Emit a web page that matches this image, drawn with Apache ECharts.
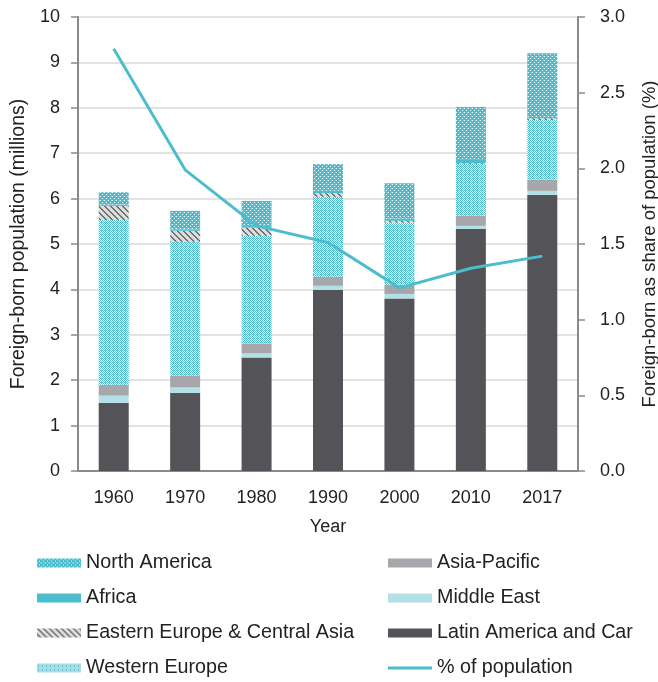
<!DOCTYPE html>
<html>
<head>
<meta charset="utf-8">
<script src="https://cdn.jsdelivr.net/npm/echarts@6/dist/echarts.min.js"></script>
<style>
  html, body { margin: 0; padding: 0; background: #fff; }
  #chart { width: 658px; height: 682px; }
</style>
</head>
<body>
<div id="chart"></div>
<script>
// years on the x axis
const years = ["1960", "1970", "1980", "1990", "2000", "2010", "2017"];
// foreign-born population by region (millions), stacked bottom to top
const latinAmerica = [1.50, 1.72, 2.50, 3.99, 3.80, 5.33, 6.08];
const middleEast = [0.16, 0.12, 0.09, 0.09, 0.10, 0.07, 0.09];
const asiaPacific = [0.24, 0.26, 0.22, 0.20, 0.20, 0.22, 0.25];
const westernEurope = [3.63, 2.95, 2.37, 1.76, 1.37, 1.14, 1.31];
const easternEurope = [0.31, 0.24, 0.18, 0.08, 0.04, 0.02, 0.04];
const africa = [0.03, 0.03, 0.04, 0.05, 0.05, 0.09, 0.03];
const northAmerica = [0.27, 0.41, 0.55, 0.59, 0.78, 1.15, 1.40];
// foreign-born as share of population (%)
const sharePct = [2.79, 1.99, 1.62, 1.51, 1.21, 1.34, 1.42];

const FONT = "'Liberation Sans', Arial, sans-serif";
const TEAL = "#4bbdcd";

function makePattern(size, draw) {
  const c = document.createElement("canvas");
  c.width = size;
  c.height = size;
  const ctx = c.getContext("2d");
  draw(ctx);
  return { image: c, repeat: "repeat" };
}

// light dotted teal (Western Europe)
const wePattern = makePattern(4, function (ctx) {
  ctx.fillStyle = "#ffffff";
  ctx.fillRect(0, 0, 4, 4);
  ctx.fillStyle = "#4fbdcd";
  for (let y = 0; y < 4; y++) {
    for (let x = 0; x < 4; x++) {
      if ((x + y) % 2 === 0) ctx.fillRect(x, y, 1, 1);
    }
  }
  ctx.fillStyle = "#7fcfdb";
  ctx.fillRect(1, 2, 1, 1);
});

// denser teal with white flecks (North America)
const naPattern = makePattern(4, function (ctx) {
  ctx.fillStyle = "#4cbccc";
  ctx.fillRect(0, 0, 4, 4);
  ctx.fillStyle = "#f2fbfc";
  ctx.fillRect(0, 0, 1, 1);
  ctx.fillRect(2, 2, 1, 1);
  ctx.fillStyle = "#8fd6e0";
  ctx.fillRect(3, 0, 1, 1);
});

// diagonal grey hatching (Eastern Europe & Central Asia)
const eePattern = makePattern(6, function (ctx) {
  ctx.fillStyle = "#dcdcdc";
  ctx.fillRect(0, 0, 6, 6);
  ctx.fillStyle = "#707070";
  for (let i = 0; i < 6; i++) {
    ctx.fillRect(i, i, 1, 1);
    ctx.fillRect((i + 1) % 6, i, 1, 1);
  }
});

const chart = echarts.init(document.getElementById("chart"));

function barSeries(name, data, color) {
  return {
    name: name,
    type: "bar",
    stack: "pop",
    barWidth: 30,
    data: data,
    itemStyle: { color: color },
    emphasis: { disabled: true }
  };
}

const legendText = { fontFamily: FONT, fontSize: 19.7, color: "#222" };
const lineIcon = "path://M0,0L44,0L44,3L0,3Z";

chart.setOption({
  animation: false,
  backgroundColor: "#ffffff",
  textStyle: { fontFamily: FONT },
  grid: { left: 78, right: 80, top: 17, bottom: 211, containLabel: false, outerBoundsMode: "none" },
  legend: [
    {
      orient: "vertical",
      left: 37,
      top: 553,
      padding: 0,
      icon: "rect",
      itemWidth: 44,
      itemHeight: 9,
      itemGap: 15,
      textStyle: legendText,
      selectedMode: false,
      data: ["North America", "Africa", "Eastern Europe & Central Asia", "Western Europe"]
    },
    {
      orient: "vertical",
      left: 388,
      top: 553,
      padding: 0,
      icon: "rect",
      itemWidth: 44,
      itemHeight: 9,
      itemGap: 15,
      textStyle: legendText,
      selectedMode: false,
      data: ["Asia-Pacific", "Middle East", "Latin America and Car",
        { name: "% of population", icon: lineIcon }]
    }
  ],
  xAxis: {
    type: "category",
    data: years,
    name: "Year",
    nameLocation: "middle",
    nameGap: 47,
    nameTextStyle: { fontSize: 18, color: "#222" },
    axisLine: { lineStyle: { color: "#8a8a8a", width: 2 } },
    axisTick: { show: false },
    axisLabel: { fontSize: 18, color: "#222", margin: 18 }
  },
  yAxis: [
    {
      type: "value",
      min: 0,
      max: 10,
      interval: 1,
      name: "Foreign-born population (millions)",
      nameLocation: "middle",
      nameGap: 42,
      nameTextStyle: { fontSize: 19.5, color: "#222" },
      axisLine: { show: true, lineStyle: { color: "#8a8a8a", width: 2 } },
      axisTick: { show: true, length: 7, lineStyle: { color: "#8a8a8a", width: 1.5 } },
      axisLabel: { fontSize: 18, color: "#222", margin: 18 },
      splitLine: { show: true, lineStyle: { color: "#dadada", width: 1.5 } }
    },
    {
      type: "value",
      min: 0,
      max: 3,
      interval: 0.5,
      name: "Foreign-born as share of population (%)",
      nameLocation: "middle",
      nameGap: 62,
      nameTextStyle: { fontSize: 18.5, color: "#222" },
      axisLine: { show: true, lineStyle: { color: "#8a8a8a", width: 2 } },
      axisTick: { show: true, length: 7, lineStyle: { color: "#8a8a8a", width: 1.5 } },
      axisLabel: {
        fontSize: 18,
        color: "#222",
        margin: 22,
        formatter: function (v) { return v.toFixed(1); }
      },
      splitLine: { show: false }
    }
  ],
  series: [
    barSeries("Latin America and Car", latinAmerica, "#545358"),
    barSeries("Middle East", middleEast, "#b2e0e6"),
    barSeries("Asia-Pacific", asiaPacific, "#a7a6ab"),
    barSeries("Western Europe", westernEurope, wePattern),
    barSeries("Eastern Europe & Central Asia", easternEurope, eePattern),
    barSeries("Africa", africa, TEAL),
    barSeries("North America", northAmerica, naPattern),
    {
      name: "% of population",
      type: "line",
      yAxisIndex: 1,
      data: sharePct,
      symbol: "none",
      lineStyle: { color: TEAL, width: 3 },
      itemStyle: { color: TEAL },
      emphasis: { disabled: true },
      z: 5
    }
  ]
});
</script>
</body>
</html>
